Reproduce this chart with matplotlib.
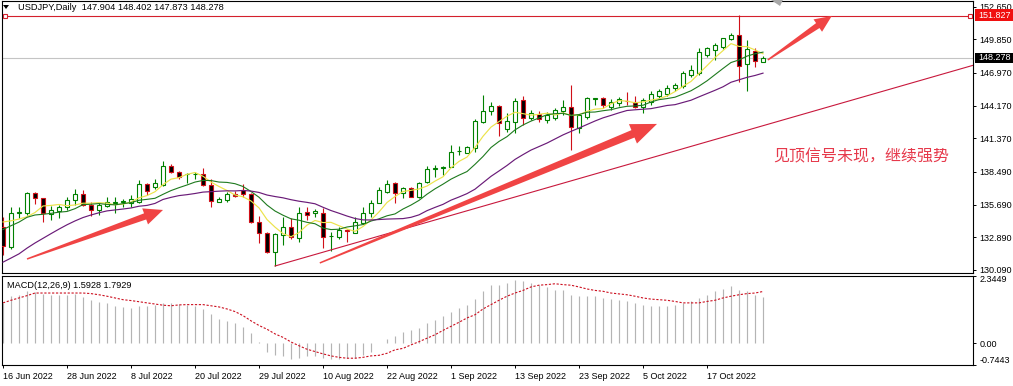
import matplotlib
matplotlib.use("Agg")
import matplotlib.pyplot as plt
import numpy as np
from matplotlib.patches import Polygon, Rectangle

plt.rcParams['font.family'] = ['Liberation Sans', 'DejaVu Sans']

# ---------------- data ----------------
dates = ["16 Jun 2022", "28 Jun 2022", "8 Jul 2022", "20 Jul 2022", "29 Jul 2022",
         "10 Aug 2022", "22 Aug 2022", "1 Sep 2022", "13 Sep 2022", "23 Sep 2022",
         "5 Oct 2022", "17 Oct 2022"]
date_bars = [0, 8, 16, 24, 32, 40, 48, 56, 64, 72, 80, 88]

opens = [133.75,132.10,134.95,135.00,136.66,136.23,134.89,135.17,135.46,136.10,
         136.60,135.66,135.23,135.57,135.83,135.92,135.80,135.94,137.46,137.17,
         137.37,138.99,138.51,138.27,138.27,138.29,137.37,135.94,136.06,136.60,
         136.94,136.60,134.23,133.22,131.60,133.08,133.80,132.80,135.06,134.95,
         134.95,132.96,132.94,133.50,133.28,134.15,135.00,135.85,136.80,137.52,
         136.72,137.09,136.37,137.65,138.76,138.80,138.94,140.25,140.14,140.50,
         142.80,143.74,144.14,142.14,142.79,144.65,143.10,143.43,142.94,143.08,
         143.72,144.05,142.28,143.22,144.74,144.80,144.08,144.37,144.60,144.50,
         144.08,144.50,145.00,145.20,145.67,145.88,146.80,146.94,148.50,148.96,
         149.22,149.88,150.22,147.70,148.85,147.904]
highs = [134.66,135.50,135.50,136.80,136.80,136.25,135.57,135.66,136.32,137.00,
         136.95,135.94,135.85,136.32,136.32,136.14,136.51,137.80,137.57,137.86,
         139.45,139.17,138.60,138.42,138.46,138.80,137.86,136.30,136.80,136.86,
         137.43,136.71,134.72,133.37,133.25,134.66,134.52,135.46,135.51,135.29,
         135.37,133.37,133.80,133.58,134.66,135.46,136.09,137.22,137.80,137.65,
         137.17,137.17,137.65,139.00,139.08,139.00,140.80,140.71,140.71,142.99,
         145.08,144.51,144.20,143.50,144.85,145.02,143.78,143.71,143.60,143.95,
         144.65,145.94,143.45,144.90,144.85,144.93,144.70,144.90,145.31,145.02,
         144.85,145.40,145.55,145.90,146.10,147.10,147.65,149.08,149.22,149.51,
         150.00,150.36,151.94,149.79,149.13,148.402]
lows = [131.40,131.90,134.52,134.80,135.74,134.23,134.37,134.52,135.23,135.66,
        135.60,134.72,134.80,135.51,134.99,135.51,135.51,135.85,136.51,137.00,
        137.28,138.37,137.86,137.52,137.86,137.28,135.51,135.90,135.94,136.37,
        136.32,134.09,132.43,131.52,130.43,132.23,132.72,132.52,134.37,134.66,
        131.95,131.74,132.72,132.52,133.23,134.03,134.66,135.80,136.66,135.80,
        136.23,136.32,136.23,137.52,138.08,138.23,138.89,139.94,140.09,140.22,
        142.66,143.37,141.57,141.94,141.80,142.50,142.90,142.79,142.65,142.95,
        143.37,140.37,141.80,143.05,144.22,143.94,143.80,144.10,144.22,143.94,
        143.51,144.20,144.80,145.00,145.40,145.70,146.65,146.80,148.36,148.08,
        149.00,149.79,146.17,145.42,147.50,147.873]
closes = [132.15,134.95,135.06,136.66,136.23,134.95,135.22,135.46,136.09,136.60,
          135.66,135.23,135.66,135.94,135.87,135.96,136.14,137.46,136.89,137.52,
          138.99,138.51,138.08,138.31,138.31,137.37,136.03,136.17,136.60,136.40,
          136.60,134.23,133.22,131.60,133.17,133.80,132.89,135.00,134.80,135.17,
          132.89,133.00,133.52,133.42,134.16,134.95,135.85,136.94,137.43,136.72,
          137.09,136.37,137.52,138.72,138.80,138.92,140.22,140.28,140.60,142.88,
          143.74,144.14,142.66,142.88,144.57,143.13,143.50,143.02,143.37,143.79,
          144.05,142.36,143.37,144.80,144.78,144.22,144.45,144.74,144.55,144.08,
          144.65,145.14,145.40,145.70,145.94,146.94,147.22,148.79,149.08,149.36,
          149.94,150.22,147.59,148.98,147.99,148.278]

ma_fast = [134.20,134.30,134.45,134.65,135.01,135.57,135.62,135.70,135.59,135.66,
           135.81,135.81,135.85,135.82,135.67,135.73,135.91,136.27,136.46,136.79,
           137.40,137.87,138.00,138.28,138.44,138.12,137.62,137.24,136.90,136.51,
           136.36,136.00,135.41,134.41,133.76,133.20,132.94,133.29,133.93,134.33,
           134.15,134.17,133.88,133.60,133.40,133.81,134.38,135.06,135.87,136.38,
           136.81,136.91,137.03,137.28,137.70,138.07,138.84,139.39,139.76,140.58,
           141.54,142.33,142.80,143.26,143.60,143.48,143.35,143.42,143.52,143.36,
           143.55,143.32,143.39,143.67,143.87,143.91,144.32,144.60,144.55,144.41,
           144.49,144.63,144.76,144.99,145.37,145.82,146.24,146.92,147.59,148.28,
           148.88,149.48,149.24,149.22,148.94,148.61]
ma_mid = [133.55,133.88,134.19,134.60,134.80,134.86,134.94,135.04,135.10,135.34,
          135.69,135.72,135.78,135.70,135.67,135.77,135.86,136.06,136.14,136.23,
          136.57,136.89,137.14,137.37,137.62,137.76,137.75,137.62,137.59,137.48,
          137.24,136.81,136.32,135.65,135.14,134.78,134.47,134.35,134.17,134.05,
          133.68,133.55,133.58,133.77,133.87,133.98,134.28,134.47,134.73,134.89,
          135.31,135.65,136.05,136.58,137.04,137.44,137.87,138.21,138.52,139.14,
          139.81,140.58,141.10,141.51,142.09,142.51,142.84,143.11,143.39,143.48,
          143.51,143.33,143.40,143.60,143.62,143.73,143.82,143.99,144.11,144.14,
          144.20,144.48,144.68,144.77,144.89,145.16,145.44,145.84,146.29,146.82,
          147.35,147.86,148.08,148.41,148.61,148.75]
ma_slow = [130.76,131.11,131.47,131.96,132.40,132.80,133.20,133.59,133.96,134.29,
           134.58,134.80,134.99,135.15,135.23,135.31,135.40,135.55,135.62,135.79,
           136.13,136.31,136.46,136.54,136.64,136.76,136.80,136.84,136.87,136.86,
           136.90,136.85,136.73,136.51,136.38,136.27,136.11,135.98,135.88,135.76,
           135.46,135.18,134.95,134.71,134.50,134.38,134.37,134.41,134.45,134.47,
           134.49,134.60,134.81,135.17,135.45,135.71,136.07,136.34,136.63,137.01,
           137.56,138.11,138.57,139.04,139.56,139.97,140.36,140.66,140.96,141.31,
           141.66,141.96,142.25,142.55,142.85,143.12,143.33,143.55,143.75,143.81,
           143.86,143.91,144.04,144.18,144.25,144.44,144.63,144.92,145.20,145.48,
           145.78,146.17,146.38,146.59,146.75,146.95]

macd_main = [1.40,1.63,1.68,1.80,1.76,1.72,1.68,1.68,1.68,1.72,
             1.60,1.49,1.42,1.40,1.30,1.26,1.22,1.30,1.30,1.33,
             1.40,1.40,1.37,1.33,1.30,1.19,1.02,0.84,0.79,0.70,
             0.58,0.35,0.06,-0.29,-0.40,-0.44,-0.55,-0.49,-0.44,-0.44,
             -0.49,-0.55,-0.55,-0.51,-0.49,-0.40,-0.29,0.03,0.17,0.27,
             0.41,0.45,0.53,0.70,0.82,0.93,1.07,1.22,1.34,1.53,
             1.80,2.00,2.03,2.09,2.18,2.14,2.09,2.03,1.95,1.86,
             1.83,1.68,1.63,1.65,1.65,1.57,1.53,1.49,1.45,1.40,
             1.32,1.30,1.29,1.30,1.31,1.40,1.45,1.57,1.68,1.80,
             1.88,1.97,1.83,1.80,1.68,1.5928]
macd_signal = [1.40,1.49,1.57,1.65,1.74,1.74,1.74,1.74,1.74,1.74,
               1.74,1.72,1.68,1.63,1.57,1.51,1.48,1.44,1.40,1.36,
               1.32,1.30,1.33,1.34,1.34,1.34,1.30,1.26,1.19,1.10,
               0.96,0.78,0.62,0.49,0.33,0.21,0.05,-0.08,-0.20,-0.28,
               -0.36,-0.43,-0.48,-0.51,-0.51,-0.48,-0.43,-0.41,-0.34,-0.22,
               -0.17,-0.05,0.06,0.18,0.30,0.45,0.59,0.73,0.88,0.99,
               1.19,1.34,1.49,1.63,1.74,1.83,1.95,2.01,2.03,2.06,
               2.03,2.01,1.95,1.88,1.83,1.80,1.74,1.71,1.68,1.63,
               1.57,1.53,1.51,1.49,1.45,1.40,1.40,1.40,1.45,1.49,
               1.57,1.63,1.68,1.72,1.74,1.7929]

price_ticks = [130.090, 132.890, 135.690, 138.490, 141.370, 144.170, 146.970, 149.850, 152.650]
macd_ticks = [2.3449, 0.0, -0.7443]
macd_tick_labels = ["2.3449", "0.00", "-0.7443"]
resistance = 151.827
last_price = 148.278
trend_pts = [(34, 130.43), (121.25, 147.62)]

# ---------------- layout ----------------
W, H = 1013, 386
fig = plt.figure(figsize=(W / 100, H / 100), dpi=100)
fig.patch.set_facecolor('white')


def fx(px):
    return px / W


def fy(py):
    return 1 - py / H


ax = fig.add_axes([fx(2), fy(273), fx(973) - fx(2), fy(1) - fy(273)])
ax2 = fig.add_axes([fx(2), fy(365), fx(973) - fx(2), fy(275.5) - fy(365)])

XMIN, XMAX = -0.125, 121.25
ax.set_xlim(XMIN, XMAX)
ax.set_ylim(129.83, 153.13)
ax2.set_xlim(XMIN, XMAX)
ax2.set_ylim(-0.7443, 2.3449)

for a in (ax, ax2):
    for s in a.spines.values():
        s.set_color('black')
        s.set_linewidth(0.8)

x = np.arange(len(closes))
UP, DN = '#008000', '#d01018'

# candles
for i in x:
    o, h, l, c = opens[i], highs[i], lows[i], closes[i]
    up = c >= o
    col = UP if up else DN
    ax.vlines(i, l, h, color=col, lw=0.8, zorder=2)
    hgt = abs(c - o)
    ax.bar(i, hgt if hgt > 0.01 else 0.001, bottom=min(o, c), width=0.5,
           facecolor='white' if up else 'black', edgecolor=col, lw=0.8, zorder=3)

# moving averages
ax.plot(x, ma_fast, color='#ece34a', lw=0.85, zorder=4)
ax.plot(x, ma_mid, color='#1e7a1e', lw=0.8, zorder=4)
ax.plot(x, ma_slow, color='#6a1b78', lw=0.85, zorder=4)

# horizontal lines
ax.axhline(resistance, color='#d4202c', lw=0.8, zorder=1)
ax.axhline(last_price, color='#c4c4c4', lw=0.8, zorder=1)
ax.plot([0.25, 120.9], [resistance, resistance], ls='none', marker='s', ms=3.2,
        mfc='white', mec='#d4202c', mew=0.8, zorder=5, clip_on=False)

# trend line
ax.plot([p[0] for p in trend_pts], [p[1] for p in trend_pts], color='#c8183c', lw=0.8, zorder=4)


# big red arrows
def tapered_arrow(tail, tip, w_tail, w_neck, head_w, head_len, color='#f04444'):
    T = ax.transData
    p0 = np.array(T.transform(tail))
    p1 = np.array(T.transform(tip))
    d = p1 - p0
    L = np.hypot(*d)
    u = d / L
    n = np.array([-u[1], u[0]])
    neck = p1 - u * head_len
    pts = [p0 + n * w_tail / 2, neck + n * w_neck / 2, neck + n * head_w / 2, p1,
           neck - n * head_w / 2, neck - n * w_neck / 2, p0 - n * w_tail / 2]
    pts_d = T.inverted().transform(np.array(pts))
    ax.add_patch(Polygon(pts_d, closed=True, facecolor=color, edgecolor='none', zorder=6))


tapered_arrow((3.0, 131.03), (20.0, 135.23), 1.5, 6.5, 17, 19)
tapered_arrow((39.6, 130.69), (81.75, 142.60), 1.5, 8.0, 21, 26)
tapered_arrow((95.6, 148.08), (103.6, 151.85), 1.5, 6.0, 15, 17)

# annotation text
fig.text(fx(773), fy(157), "见顶信号未现，继续强势", fontsize=11.5, color='#e6394b',
         va='center', ha='left', family=['Noto Sans CJK SC', 'DejaVu Sans'])

# right price axis
ax.set_xticks([])
ax.yaxis.tick_right()
ax.set_yticks(price_ticks)
ax.set_yticklabels([f"{v:.3f}" for v in price_ticks])
ax.tick_params(axis='y', direction='out', length=2.5, width=0.7, pad=2, labelsize=6.5)

# MACD panel
ax2.vlines(x, 0, macd_main, color='#b4b4b4', lw=0.85, zorder=2)
ax2.plot(x, macd_signal, color='#cc1020', lw=0.8, dashes=(2.0, 1.5), zorder=3)
ax2.yaxis.tick_right()
ax2.set_yticks(macd_ticks)
ax2.set_yticklabels(macd_tick_labels)
ax2.tick_params(axis='y', direction='out', length=2.5, width=0.7, pad=2, labelsize=6.5)
lbls = ax2.get_yticklabels()
lbls[0].set_va('top')
lbls[2].set_va('bottom')
ax2.set_xticks(date_bars)
ax2.set_xticklabels(dates, ha='left')
ax2.tick_params(axis='x', direction='out', length=2.5, width=0.7, pad=2.5, labelsize=6.5)

fig.text(fx(7), fy(285), "MACD(12,26,9) 1.5928 1.7929", fontsize=6.6, va='center', ha='left')

# header
fig.patches.append(Polygon([[fx(3), fy(5)], [fx(9), fy(5)], [fx(6), fy(9)]], closed=True,
                           facecolor='black', edgecolor='none', transform=fig.transFigure))
fig.text(fx(18), fy(7.5), "USDJPY,Daily  147.904 148.402 147.873 148.278", fontsize=6.7,
         va='center', ha='left')

# chart-shift marker
fig.patches.append(Polygon([[fx(771), fy(0)], [fx(783), fy(0)], [fx(780), fy(6)]], closed=True,
                           facecolor='#a8a8a8', edgecolor='none', transform=fig.transFigure))

# price label boxes on right axis
fig.patches.append(Rectangle((fx(975), fy(21)), fx(1013) - fx(975), fy(9) - fy(21),
                             facecolor='#f01010', edgecolor='none', transform=fig.transFigure, zorder=5))
fig.text(fx(978), fy(15), "151.827", fontsize=6.5, color='white', va='center', ha='left', zorder=6)
fig.patches.append(Rectangle((fx(975), fy(62.5)), fx(1013) - fx(975), fy(52.5) - fy(62.5),
                             facecolor='black', edgecolor='none', transform=fig.transFigure, zorder=5))
fig.text(fx(978), fy(57.5), "148.278", fontsize=6.5, color='white', va='center', ha='left', zorder=6)

fig.savefig("out.png", dpi=100, facecolor='white')
